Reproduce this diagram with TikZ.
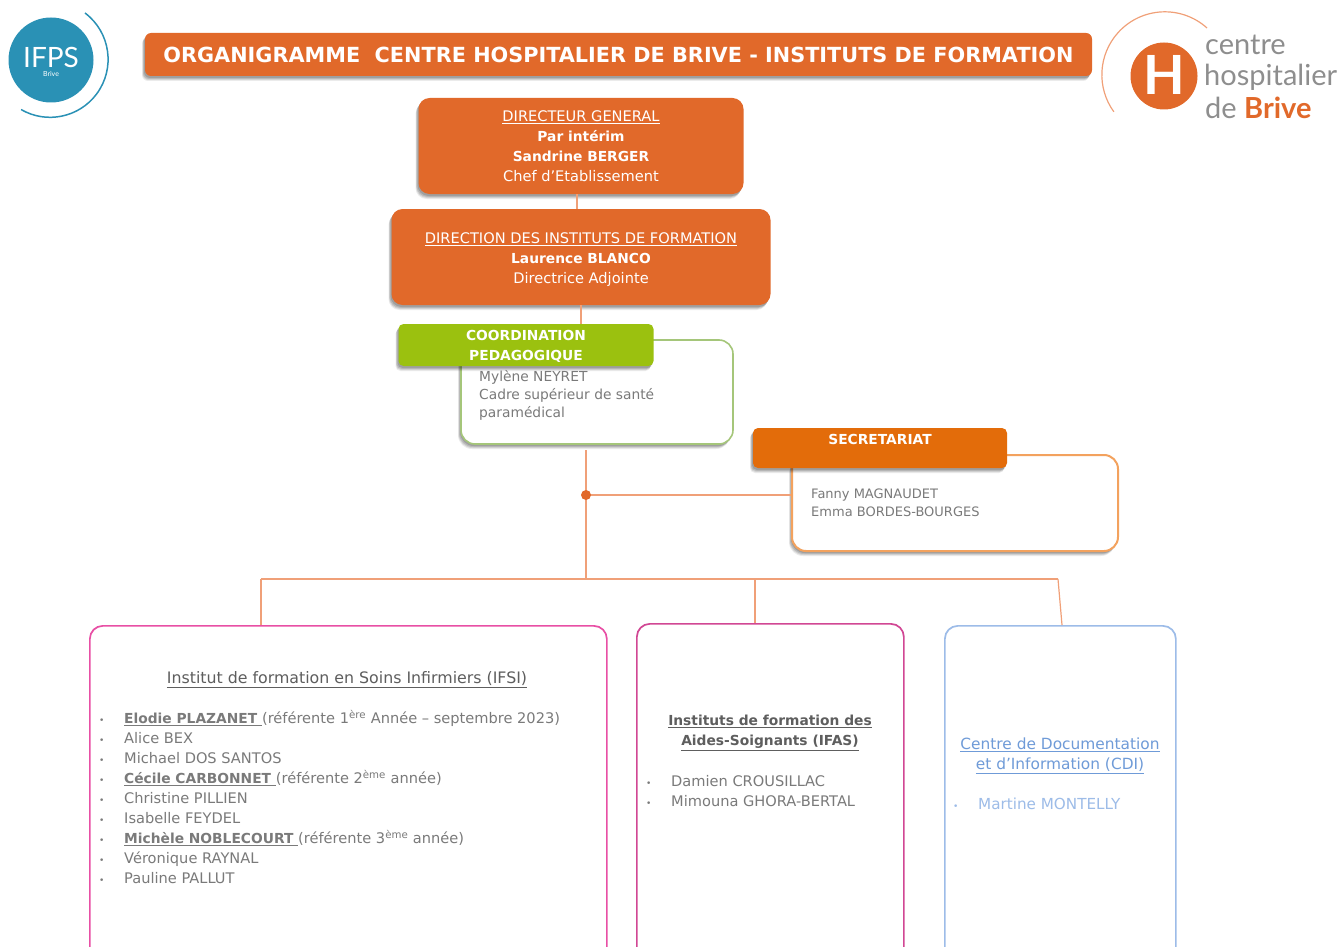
\documentclass[tikz,border=0pt]{standalone}
\usepackage{fontspec}
\setmainfont{DejaVu Sans}
\newfontfamily\logofont{Lato}
\usetikzlibrary{shadows,calc}
\definecolor{orangeA}{HTML}{E1692A}
\definecolor{orangeB}{HTML}{E36C0A}
\definecolor{orangeL}{HTML}{F3A25E}
\definecolor{lineO}{HTML}{F0A078}
\definecolor{greenA}{HTML}{9BC10F}
\definecolor{greenL}{HTML}{A5C67A}
\definecolor{pinkL}{HTML}{E84FA5}
\definecolor{blueL}{HTML}{9DBCE8}
\definecolor{blueT}{HTML}{6F9BD8}
\definecolor{tealL}{HTML}{2A91B5}
\definecolor{greyT}{HTML}{7A7A7A}
\definecolor{darkT}{HTML}{5E5E5E}
\definecolor{logoGrey}{HTML}{8E8E8E}
\newcommand{\bt}[1]{{\fontsize{13.8}{20}\selectfont\bfseries #1}}
\tikzset{
  x=1pt,y=-1pt,
  shad/.style={
    general shadow={shadow xshift=-3pt,shadow yshift=-5pt,fill=black,opacity=.08},
    general shadow={shadow xshift=-2.5pt,shadow yshift=-4pt,fill=black,opacity=.10},
    general shadow={shadow xshift=-2pt,shadow yshift=-3pt,fill=black,opacity=.12},
    general shadow={shadow xshift=-1pt,shadow yshift=-2pt,fill=black,opacity=.14}},
  solidbox/.style={shape=rectangle,rounded corners=11pt,fill=orangeA,shad,inner sep=0pt},
  solidtxt/.style={inner sep=0pt,text=white,align=center,font=\fontsize{14.6}{20}\selectfont},
  tagbox/.style={shape=rectangle,rounded corners=5pt,shad,inner sep=0pt},
  tagtxt/.style={inner sep=0pt,text=white,align=center,font=\fontsize{13.8}{20}\selectfont\bfseries},
  outl/.style={shape=rectangle,rounded corners=14pt,fill=white,line width=1.6pt,inner sep=0pt},
  listbox/.style={shape=rectangle,rounded corners=13pt,fill=white,line width=1.7pt,inner sep=0pt},
  link/.style={draw=lineO,line width=1.2pt},
  body/.style={inner sep=0pt,text=greyT,align=left,anchor=north west,font=\fontsize{13.8}{18}\selectfont},
  ttl/.style={inner sep=0pt,text=darkT,align=center,font=\fontsize{15.8}{20}\selectfont},
  liste/.style={inner sep=0pt,text=greyT,align=left,anchor=north west,font=\fontsize{14.6}{20}\selectfont},
}
\newcommand{\pp}[1]{\makebox[25pt][l]{\small\textbullet}#1}
\begin{document}
\begin{tikzpicture}
\useasboundingbox (0,0) rectangle (1341,947);
\clip (0,0) rectangle (1341,947);

\coordinate (bus) at (586,579);
\coordinate (busL) at (261,579);
\coordinate (busM) at (755,579);
\coordinate (busR) at (1058,579);
\coordinate (dot) at (586,495);
\coordinate (stem) at (586,450);

% title
\node[solidbox,rounded corners=6pt,minimum width=947pt,minimum height=43pt,text=white,font=\fontsize{20.8}{26}\selectfont\bfseries] (title) at (618.5,54.5) {ORGANIGRAMME\ \ CENTRE HOSPITALIER DE BRIVE - INSTITUTS DE FORMATION};

% IFPS logo
\node[circle,fill=tealL,minimum size=85pt,inner sep=0pt] (ifps) at (51,60) {};
\node[inner sep=0pt,text=white,font=\logofont\fontsize{28}{28}\selectfont] (ifpsT) at (51,57) {IFPS};
\node[inner sep=0pt,text=white,font=\logofont\fontsize{7}{7}\selectfont] (ifpsB) at (51,74) {Brive};
\draw[tealL,line width=1.5pt] (85,13) arc[start angle=-53,end angle=120,radius=58];

% CH logo
\node[circle,fill=orangeA,minimum size=67pt,inner sep=0pt] (chH) at (1164,76) {};
\node[inner sep=0pt,text=white,font=\logofont\fontsize{54}{54}\selectfont\bfseries] (chHT) at (1164,75) {H};
\draw[lineO,line width=1.2pt] (1207,28) arc[start angle=-48,end angle=-216,radius=63];
\node[inner sep=0pt,anchor=west,text=logoGrey,font=\logofont\fontsize{29}{29}\selectfont] (ch1) at (1205,45) {centre};
\node[inner sep=0pt,anchor=west,text=logoGrey,font=\logofont\fontsize{29}{29}\selectfont] (ch2) at (1204,77) {hospitalier};
\node[inner sep=0pt,anchor=west,text=logoGrey,font=\logofont\fontsize{29}{29}\selectfont] (ch3) at (1205,108) {de \textcolor{orangeA}{\bfseries Brive}};

% hierarchy
\node[solidbox,minimum width=325pt,minimum height=96pt] (dg) at (581,146) {};
\node[solidtxt] (dgT) at (581,146.5) {\underline{DIRECTEUR GENERAL}\\\bt{Par intérim}\\\bt{Sandrine BERGER}\\Chef d’Etablissement};
\node[solidbox,minimum width=379pt,minimum height=96pt] (dif) at (581,257) {};
\node[solidtxt] (difT) at (581,260) {\underline{DIRECTION DES INSTITUTS DE FORMATION}\\\bt{Laurence BLANCO}\\Directrice Adjointe};

% links
\draw[link] (dg.south -| 577,0) -- (dif.north -| 577,0);
\draw[link] (dif.south) -- ++(0,20);

% coordination
\node[outl,draw=greenL,shad,minimum width=272pt,minimum height=104pt] (coordbox) at (597,392) {};
\node[tagbox,fill=greenA,minimum width=255pt,minimum height=42pt] (coordtag) at (526,345) {};
\node[tagtxt] (coordT) at (526,346) {COORDINATION\\PEDAGOGIQUE};
\node[body] (coordtxt) at (479,370) {Mylène NEYRET\\Cadre supérieur de santé\\paramédical};

% secretariat
\node[outl,draw=orangeL,line width=2pt,shad,minimum width=326pt,minimum height=96pt] (secbox) at (955,503) {};
\node[tagbox,fill=orangeB,minimum width=254pt,minimum height=40pt] (sectag) at (880,448) {};
\node[tagtxt] (sectxt) at (880,439) {SECRETARIAT};
\node[body,font=\fontsize{13}{18}\selectfont] (secnames) at (811,488.5) {Fanny MAGNAUDET\\Emma BORDES-BOURGES};

% lower boxes
\node[listbox,draw=pinkL,minimum width=517pt,minimum height=360pt,anchor=north west] (ifsi) at (89,625) {};
\node[listbox,draw=pinkL!90!black,minimum width=267pt,minimum height=360pt,anchor=north west] (ifas) at (636,623) {};
\node[listbox,draw=blueL,minimum width=231pt,minimum height=360pt,anchor=north west] (cdi) at (944,625) {};

\node[ttl] (ifsiT) at (347,680) {\underline{Institut de formation en Soins Infirmiers (IFSI)}};
\node[liste] (ifsiL) at (99,710) {%
\pp{\bt{\underline{Elodie PLAZANET }}(référente 1\textsuperscript{ère} Année – septembre 2023)}\\
\pp{Alice BEX}\\
\pp{Michael DOS SANTOS}\\
\pp{\bt{\underline{Cécile CARBONNET }}(référente 2\textsuperscript{ème} année)}\\
\pp{Christine PILLIEN}\\
\pp{Isabelle FEYDEL}\\
\pp{\bt{\underline{Michèle NOBLECOURT }}(référente 3\textsuperscript{ème} année)}\\
\pp{Véronique RAYNAL}\\
\pp{Pauline PALLUT}};

\node[ttl,font=\fontsize{13.8}{20}\selectfont\bfseries] (ifasT) at (770,733) {\underline{Instituts de formation des}\\\underline{Aides-Soignants (IFAS)}};
\node[liste] (ifasL) at (646,775) {\pp{Damien CROUSILLAC}\\\pp{Mimouna GHORA-BERTAL}};

\node[ttl,text=blueT,font=\fontsize{15.4}{20}\selectfont] (cdiT) at (1060,756) {\underline{Centre de Documentation}\\\underline{et d’Information (CDI)}};
\node[liste,text=blueL,font=\fontsize{15.2}{20}\selectfont] (cdiL) at (953,798) {\pp{Martine MONTELLY}};

% links
\draw[link] (stem) -- (bus);
\draw[link] (dot) -- (dot -| secbox.west);
\fill[orangeA] (dot) circle (5pt);
\draw[link] (busL) -- (busR);
\draw[link] (busL) -- (busL |- ifsi.north);
\draw[link] (busM) -- (busM |- ifas.north);
\draw[link] (busR) -- (cdi.north -| 1062,0);
\end{tikzpicture}
\end{document}
